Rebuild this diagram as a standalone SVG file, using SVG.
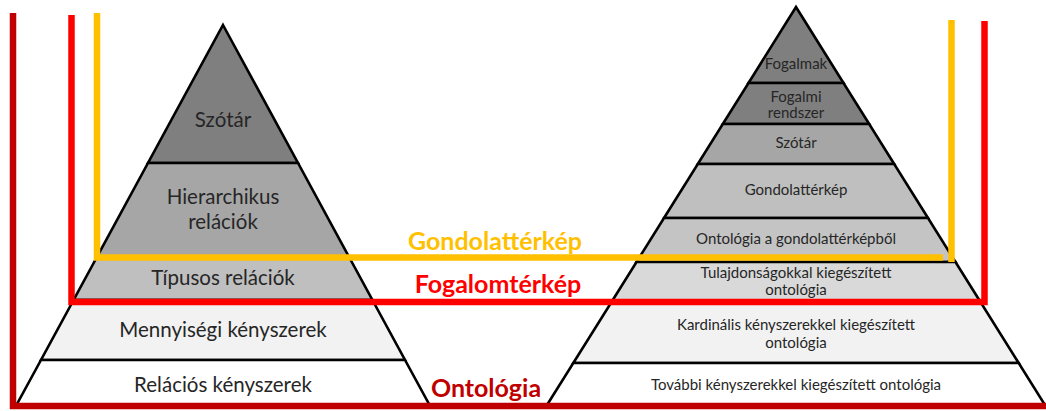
<svg xmlns="http://www.w3.org/2000/svg" width="1046" height="411" viewBox="0 0 1046 411">
  <style>
    .layer { stroke: #000; stroke-width: 2.6; stroke-linejoin: miter; }
    .t { font-family: Lato, "Liberation Sans", sans-serif; fill: #262626; text-anchor: middle; }
    .big { font-size: 20.5px; }
    .small { font-size: 15px; }
    .frame { fill: none; stroke-width: 6.5; stroke-linejoin: miter; stroke-linecap: butt; }
    .lbl { font-family: Lato, "Liberation Sans", sans-serif; font-weight: bold; font-size: 25px; text-anchor: middle; }
  </style>

  <rect width="1046" height="411" fill="#fff"/>

  <!-- Left pyramid: apex (223,25), base y=405 from x=16.5 to 429.5 -->
  <g id="left-pyramid">
    <g id="l-szotar">
      <polygon class="layer" fill="#7f7f7f" points="223,25 298,163 148,163"/>
      <text class="t big" x="223" y="127">Szótár</text>
    </g>
    <g id="l-hierarchikus">
      <polygon class="layer" fill="#a6a6a6" points="148,163 298,163 349.6,258 96.4,258"/>
      <text class="t big" x="223" y="204">Hierarchikus</text>
      <text class="t big" x="223" y="229">relációk</text>
    </g>
    <g id="l-tipusos">
      <polygon class="layer" fill="#bfbfbf" points="96.4,258 349.6,258 372.4,300 73.6,300"/>
      <text class="t big" x="223" y="285">Típusos relációk</text>
    </g>
    <g id="l-mennyisegi">
      <polygon class="layer" fill="#f2f2f2" points="73.6,300 372.4,300 405,360 41,360"/>
      <text class="t big" x="223" y="337">Mennyiségi kényszerek</text>
    </g>
    <g id="l-relacios">
      <polygon class="layer" fill="#ffffff" points="41,360 405,360 429.5,405 16.5,405"/>
      <text class="t big" x="223" y="392">Relációs kényszerek</text>
    </g>
  </g>

  <!-- Right pyramid: apex (796,7), base y=405 from x=547 to 1045 -->
  <g id="right-pyramid">
    <g id="r-fogalmak">
      <polygon class="layer" fill="#7f7f7f" points="796,7 843.5,83 748.5,83"/>
      <text class="t small" x="796" y="69">Fogalmak</text>
    </g>
    <g id="r-fogalmi-rendszer">
      <polygon class="layer" fill="#7f7f7f" points="748.5,83 843.5,83 869.2,124 722.8,124"/>
      <text class="t small" x="796" y="102">Fogalmi</text>
      <text class="t small" x="796" y="118">rendszer</text>
    </g>
    <g id="r-szotar">
      <polygon class="layer" fill="#a6a6a6" points="722.8,124 869.2,124 894.2,164 697.8,164"/>
      <text class="t small" x="796" y="148">Szótár</text>
    </g>
    <g id="r-gondolatterkep">
      <polygon class="layer" fill="#bfbfbf" points="697.8,164 894.2,164 928,218 664,218"/>
      <text class="t small" x="796" y="195">Gondolattérkép</text>
    </g>
    <g id="r-ontologia-gondolat">
      <polygon class="layer" fill="#c4c4c4" points="664,218 928,218 955.5,262 636.5,262"/>
      <text class="t small" x="796" y="244">Ontológia a gondolattérképből</text>
    </g>
    <g id="r-tulajdonsagok">
      <polygon class="layer" fill="#d9d9d9" points="636.5,262 955.5,262 980.5,302 611.5,302"/>
      <text class="t small" x="796" y="278">Tulajdonságokkal kiegészített</text>
      <text class="t small" x="796" y="295">ontológia</text>
    </g>
    <g id="r-kardinalis">
      <polygon class="layer" fill="#f2f2f2" points="611.5,302 980.5,302 1018.7,363 573.3,363"/>
      <text class="t small" x="796" y="330">Kardinális kényszerekkel kiegészített</text>
      <text class="t small" x="796" y="348">ontológia</text>
    </g>
    <g id="r-tovabbi">
      <polygon class="layer" fill="#ffffff" points="573.3,363 1018.7,363 1045,405 547,405"/>
      <text class="t small" x="796" y="390">További kényszerekkel kiegészített ontológia</text>
    </g>
  </g>

  <!-- Scope frames -->
  <g id="connectors">
    <path id="frame-ontologia" class="frame" stroke="#c00000" d="M13,13 V406 H1046"/>
    <path id="frame-fogalomterkep" class="frame" stroke="#ff0000" d="M71.5,15 V302 H984.5 V21"/>
    <path id="frame-gondolat-h" class="frame" stroke="#ffc000" d="M97,13 V257.5 H943"/>
    <path id="frame-gondolat-v" class="frame" stroke="#ffc000" d="M951.5,20 V262"/>
  </g>

  <g id="labels">
    <text class="lbl" x="495" y="250" fill="#ffc000">Gondolattérkép</text>
    <text class="lbl" x="498" y="293" fill="#ff0000">Fogalomtérkép</text>
    <text class="lbl" x="486" y="397" fill="#c00000">Ontológia</text>
  </g>
</svg>
